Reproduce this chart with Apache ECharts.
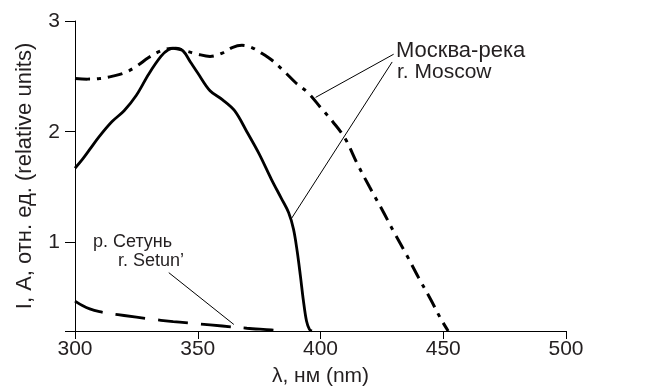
<!DOCTYPE html>
<html>
<head>
<meta charset="utf-8">
<script src="https://cdn.jsdelivr.net/npm/echarts@6/dist/echarts.min.js"></script>
<style>html,body{margin:0;padding:0;background:#fff}#c{width:646px;height:390px}</style>
</head>
<body>
<div id="c"></div>
<script>
// wavelength (nm), relative intensity
const moscowSolid = [[300,1.67],[303,1.75],[306,1.84],[310,1.96],[315,2.09],[320,2.19],[325,2.33],[330,2.52],[335,2.68],[338,2.74],[341,2.755],[344,2.73],[347,2.63],[350,2.53],[355,2.37],[360,2.29],[365,2.19],[370,2.0],[375,1.8],[380,1.57],[384,1.40],[387,1.27],[389,1.12],[390.5,0.92],[391.8,0.70],[393,0.48],[394.3,0.29],[395.5,0.215],[396.5,0.2]];
const moscowDashDot = [[300,2.48],[305,2.475],[310,2.48],[315,2.50],[320,2.53],[325,2.59],[330,2.67],[335,2.73],[340,2.755],[345,2.73],[350,2.70],[355,2.68],[360,2.71],[364,2.76],[368,2.78],[372,2.76],[376,2.71],[380,2.65],[385,2.55],[390,2.44],[395,2.35],[400,2.22],[405,2.09],[410,1.94],[415,1.71],[420,1.50],[425,1.30],[430,1.09],[435,0.89],[440,0.68],[445,0.48],[449,0.31],[452,0.2]];
const setun = [[300,0.47],[303,0.43],[306,0.40],[310,0.375],[315,0.355],[320,0.34],[330,0.31],[340,0.285],[350,0.265],[360,0.245],[370,0.225],[380,0.21],[385,0.2]];
const leaderMoscow1 = [[429.8,2.70],[398.0,2.31]];
const leaderMoscow2 = [[429.2,2.63],[388.0,1.21]];
const leaderSetun = [[338.2,0.727],[364.7,0.259]];
const xTicks = [300,350,400,450,500];
const yTickMarks = [0.2,1,2,3];
const yTickLabels = [1,2,3];
const labels = {moscowRu:'Москва-река', moscowEn:'r. Moscow', setunRu:'р. Сетунь', setunEn:'r. Setun’'};

const FONT = 'Liberation Sans, Arial, sans-serif';
const TXT = '#231f20';
const chart = echarts.init(document.getElementById('c'), null, {renderer:'canvas'});
const leader = (d) => ({type:'line', data:d, symbol:'none', silent:true, lineStyle:{color:'#000', width:1}, z:1});
chart.setOption({
  animation:false,
  grid:{left:75, right:80, top:21, bottom:59, containLabel:false, outerBoundsMode:'none'},
  xAxis:{type:'value', min:300, max:500, interval:50,
    name:'λ, нм (nm)', nameLocation:'middle', nameGap:35,
    nameTextStyle:{fontFamily:FONT, fontSize:21, color:TXT},
    axisLine:{show:true, onZero:false, lineStyle:{color:'#000', width:1}},
    axisTick:{show:true, inside:false, length:8, lineStyle:{color:'#000'}, customValues:xTicks},
    axisLabel:{fontFamily:FONT, fontSize:21, color:TXT, margin:8, customValues:xTicks},
    splitLine:{show:false}},
  yAxis:{type:'value', min:0.2, max:3,
    name:'I, A, отн. ед. (relative units)', nameLocation:'middle', nameGap:39,
    nameTextStyle:{fontFamily:FONT, fontSize:22, color:TXT},
    axisLine:{show:true, onZero:false, lineStyle:{color:'#000', width:1}},
    axisTick:{show:true, length:10, lineStyle:{color:'#000'}, customValues:yTickMarks},
    axisLabel:{fontFamily:FONT, fontSize:21, color:TXT, margin:15, customValues:yTickLabels},
    splitLine:{show:false}},
  series:[
    {type:'line', data:moscowSolid, smooth:0.35, symbol:'none', lineStyle:{color:'#000', width:2.8}, z:3},
    {type:'line', data:moscowDashDot, smooth:0.35, symbol:'none', lineStyle:{color:'#000', width:3, type:[15,7,4,7], cap:'butt'}, z:3},
    {type:'line', data:setun, smooth:0.35, symbol:'none', lineStyle:{color:'#000', width:2.8, type:[30,13], cap:'butt'}, z:3},
    leader(leaderMoscow1), leader(leaderMoscow2), leader(leaderSetun)
  ],
  graphic:[
    {type:'text', left:396, top:40, style:{text:labels.moscowRu, font:'22px '+FONT, fill:TXT}},
    {type:'text', left:397, top:62, style:{text:labels.moscowEn, font:'21px '+FONT, fill:TXT}},
    {type:'text', left:93, top:233, style:{text:labels.setunRu, font:'18px '+FONT, fill:TXT}},
    {type:'text', left:118, top:252, style:{text:labels.setunEn, font:'18px '+FONT, fill:TXT}}
  ]
});
</script>
</body>
</html>
